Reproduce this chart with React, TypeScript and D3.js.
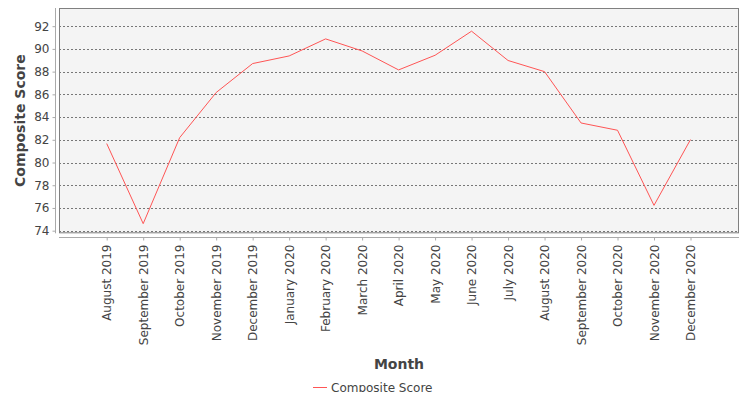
import { useEffect, useRef } from 'react';
import * as d3 from 'd3';

const MONTHS = [
  'August 2019', 'September 2019', 'October 2019', 'November 2019', 'December 2019',
  'January 2020', 'February 2020', 'March 2020', 'April 2020', 'May 2020', 'June 2020',
  'July 2020', 'August 2020', 'September 2020', 'October 2020', 'November 2020', 'December 2020',
];

const SCORES = [
  81.67, 74.62, 82.19, 86.16, 88.71, 89.38, 90.88, 89.82, 88.15,
  89.44, 91.56, 88.98, 88.0, 83.48, 82.84, 76.23, 82.02,
];

const Y_TICKS = [74, 76, 78, 80, 82, 84, 86, 88, 90, 92];

const SERIES_NAME = 'Composite Score';
const LINE_COLOR = '#ff5555';
const FONT = '"DejaVu Sans", sans-serif';

export default function App() {
  const svgRef = useRef<SVGSVGElement>(null);

  useEffect(() => {
    const svgEl = svgRef.current;
    if (!svgEl) return;

    const width = 750;
    const height = 400;
    const plot = { left: 59, top: 8, right: 739, bottom: 233.3 };

    const svg = d3.select(svgEl).attr('width', width).attr('height', height);
    svg.selectAll('*').remove();

    const x = d3.scalePoint<string>().domain(MONTHS).range([106.7, 690.5]);
    const y = d3.scaleLinear().domain([73.77, 93.6]).range([plot.bottom, plot.top]);

    // Plot background
    svg.append('rect')
      .attr('x', plot.left).attr('y', plot.top)
      .attr('width', plot.right - plot.left).attr('height', plot.bottom - plot.top)
      .attr('fill', '#f4f4f4');

    // Grid lines
    svg.append('g').selectAll('line').data(Y_TICKS).join('line')
      .attr('x1', plot.left).attr('x2', plot.right)
      .attr('y1', (d) => Math.round(y(d)) + 0.5).attr('y2', (d) => Math.round(y(d)) + 0.5)
      .attr('stroke', '#777').attr('stroke-width', 1).attr('stroke-dasharray', '2,2');

    // Plot border
    svg.append('rect')
      .attr('x', plot.left + 0.5).attr('y', plot.top + 0.5)
      .attr('width', plot.right - plot.left - 1).attr('height', plot.bottom - plot.top - 1)
      .attr('fill', 'none').attr('stroke', '#808080').attr('stroke-width', 1);

    // Y axis
    const yAxis = d3.axisLeft(y).tickValues(Y_TICKS).tickSize(3).tickPadding(3).tickFormat((v) => `${v}`);
    const yAxisG = svg.append('g').attr('transform', 'translate(55.5,0)').call(yAxis);
    yAxisG.select('.domain').attr('stroke', '#aaa').attr('d', `M0,${plot.top}V${plot.bottom}`);
    yAxisG.selectAll('.tick line').attr('stroke', '#aaa');
    yAxisG.selectAll('.tick text').attr('fill', '#444').attr('font-size', 12).attr('font-family', FONT);

    // X axis
    const xAxis = d3.axisBottom(x).tickSize(3).tickPadding(0);
    const xAxisG = svg.append('g').attr('transform', 'translate(0,237.5)').call(xAxis);
    xAxisG.select('.domain').attr('stroke', '#aaa').attr('d', `M${plot.left},0H${plot.right}`);
    xAxisG.selectAll('.tick line').attr('stroke', '#aaa');
    xAxisG.selectAll('.tick text')
      .attr('fill', '#444').attr('font-size', 12).attr('font-family', FONT)
      .attr('text-anchor', 'end').attr('dy', null)
      .attr('transform', 'translate(4,7) rotate(-90)')
      .attr('x', 0).attr('y', 0);

    // Line
    const line = d3.line<number>()
      .x((_, i) => x(MONTHS[i]) ?? 0)
      .y((d) => y(d));
    svg.append('path').datum(SCORES)
      .attr('d', line)
      .attr('fill', 'none').attr('stroke', LINE_COLOR).attr('stroke-width', 1);

    // Axis titles
    svg.append('text')
      .attr('transform', `translate(25,${(plot.top + plot.bottom) / 2}) rotate(-90)`)
      .attr('text-anchor', 'middle').attr('font-size', 14).attr('font-weight', 'bold')
      .attr('font-family', FONT).attr('fill', '#444').text('Composite Score');

    svg.append('text')
      .attr('x', (plot.left + plot.right) / 2).attr('y', 369)
      .attr('text-anchor', 'middle').attr('font-size', 14).attr('font-weight', 'bold')
      .attr('font-family', FONT).attr('fill', '#444').text('Month');

    // Legend
    svg.append('line')
      .attr('x1', 313).attr('x2', 327).attr('y1', 387.5).attr('y2', 387.5)
      .attr('stroke', LINE_COLOR).attr('stroke-width', 1);
    svg.append('text')
      .attr('x', 331).attr('y', 392)
      .attr('font-size', 12).attr('font-family', FONT).attr('fill', '#444')
      .text(SERIES_NAME);
  }, []);

  return (
    <div style={{ margin: -8, width: 750, height: 400, background: '#fff' }}>
      <svg ref={svgRef} style={{ display: 'block' }} role="img" aria-label="Composite Score by month" />
    </div>
  );
}
